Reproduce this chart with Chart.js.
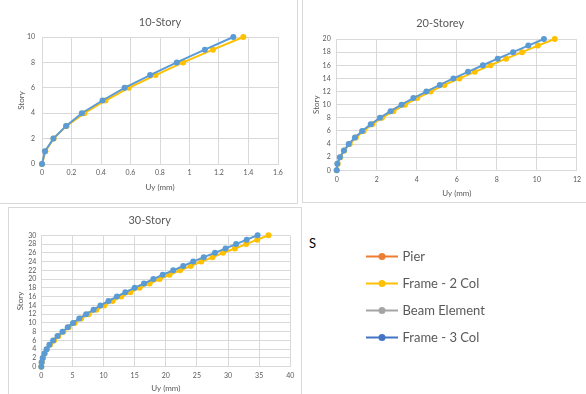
<!DOCTYPE html>
<html>
<head>
<meta charset="utf-8">
<script src="https://cdn.jsdelivr.net/npm/chart.js@4.4.0/dist/chart.umd.min.js"></script>
<style>
  body { margin: 0; background: #fff; width: 586px; height: 394px; overflow: hidden; position: relative; font-family: Lato, "Liberation Sans", sans-serif; }
  canvas, .box, .note { position: absolute; }
  .box { box-sizing: border-box; border: 1px solid #d9d9d9; }
  .note { left: 309px; top: 235px; font-size: 13px; color: #000; }
</style>
</head>
<body>
<div class="box" style="left:-1px;top:-1px;width:299px;height:205px"></div>
<div class="box" style="left:302px;top:-1px;width:300px;height:204px"></div>
<div class="box" style="left:8px;top:207px;width:294px;height:200px"></div>
<canvas id="story10" width="297" height="203" style="left:0;top:0"></canvas>
<canvas id="story20" width="283" height="202" style="left:303px;top:0"></canvas>
<canvas id="story30" width="292" height="186" style="left:9px;top:208px"></canvas>
<div class="note">S</div>
<canvas id="legendChart" width="232" height="150" style="left:354px;top:236px"></canvas>
<script>
// ---- data (Uy in mm per storey) ----
const stories10 = [0, 1, 2, 3, 4, 5, 6, 7, 8, 9, 10];
const frame2Col10 = [0, 0.023, 0.079, 0.167, 0.287, 0.43, 0.588, 0.77, 0.957, 1.159, 1.365];
const frame3Col10 = [0, 0.02, 0.077, 0.163, 0.27, 0.41, 0.56, 0.733, 0.914, 1.104, 1.297];

const stories20 = [0, 1, 2, 3, 4, 5, 6, 7, 8, 9, 10, 11, 12, 13, 14, 15, 16, 17, 18, 19, 20];
const frame2Col20 = [0, 0.05, 0.18, 0.38, 0.65, 0.96, 1.35, 1.78, 2.26, 2.83, 3.41, 4.02, 4.69, 5.38, 6.13, 6.9, 7.68, 8.46, 9.26, 10.05, 10.89];
const frame3Col20 = [0, 0.03, 0.16, 0.36, 0.6, 0.91, 1.27, 1.7, 2.16, 2.69, 3.24, 3.83, 4.48, 5.15, 5.83, 6.56, 7.3, 8.04, 8.81, 9.57, 10.35];

const stories30 = [0, 1, 2, 3, 4, 5, 6, 7, 8, 9, 10, 11, 12, 13, 14, 15, 16, 17, 18, 19, 20, 21, 22, 23, 24, 25, 26, 27, 28, 29, 30];
const frame2Col30 = [0, 0.07, 0.27, 0.55, 0.9, 1.4, 2.05, 2.75, 3.55, 4.4, 5.35, 6.4, 7.6, 8.85, 10.1, 11.45, 12.85, 14.3, 15.8, 17.4, 19.0, 20.6, 22.3, 24.0, 25.7, 27.5, 29.2, 31.1, 32.9, 34.7, 36.5];
const frame3Col30 = [0, 0.06, 0.22, 0.5, 0.85, 1.3, 1.9, 2.6, 3.4, 4.25, 5.1, 6.1, 7.2, 8.4, 9.5, 10.8, 12.15, 13.5, 15.0, 16.5, 18.0, 19.5, 21.2, 22.8, 24.4, 26.1, 27.9, 29.6, 31.3, 33.0, 34.75];

const seriesNames = ["Pier", "Frame - 2 Col", "Beam Element", "Frame - 3 Col"];
const legendColors = ["#ED7D31", "#FFC000", "#A5A5A5", "#4472C4"];

// axis limits [max, step]
const xAxis10 = [1.6, 0.2], yAxis10 = [10, 2];
const xAxis20 = [12, 2], yAxis20 = [20, 2];
const xAxis30 = [40, 5], yAxis30 = [30, 2];

const FONT = "Lato, 'Liberation Sans', sans-serif";
const TEXT = "#595959";
const GRID = "#d9d9d9";
const YELLOW = "#FFC000";
const BLUE = "#5B9BD5";

function series(label, stories, uy, color, order) {
    return {
        label: label,
        data: stories.map((s, i) => ({ x: uy[i], y: s })),
        borderColor: color,
        backgroundColor: color,
        borderWidth: 2,
        pointRadius: 3,
        pointBorderWidth: 0,
        order: order,
        clip: false
    };
}

function storyChart(id, cfg) {
    const canvas = document.getElementById(id);
    return new Chart(canvas.getContext("2d"), {
        type: "line",
        data: {
            datasets: [
                series(seriesNames[1], cfg.stories, cfg.frame2, YELLOW, 2),
                series(seriesNames[3], cfg.stories, cfg.frame3, BLUE, 1)
            ]
        },
        options: {
            responsive: false,
            animation: false,
            layout: { padding: { left: 0, top: 0, bottom: 0, right: cfg.padRight } },
            plugins: {
                legend: { display: false },
                tooltip: { enabled: false },
                title: {
                    display: true,
                    text: cfg.title,
                    color: TEXT,
                    fullSize: cfg.titleFull,
                    font: { family: FONT, size: 11, weight: "normal" },
                    padding: { top: cfg.titleTop, bottom: cfg.titleBottom }
                }
            },
            scales: {
                x: {
                    type: "linear",
                    min: 0,
                    max: cfg.xAxis[0],
                    ticks: {
                        stepSize: cfg.xAxis[1],
                        padding: cfg.xTickPad,
                        color: TEXT,
                        font: { family: FONT, size: 7 },
                        maxRotation: 0,
                        callback: v => String(Math.round(v * 10) / 10)
                    },
                    grid: { color: GRID, drawTicks: false },
                    border: { color: GRID },
                    title: {
                        display: true,
                        text: "Uy (mm)",
                        color: TEXT,
                        font: { family: FONT, size: 8 },
                        padding: { top: 0, bottom: cfg.xTitlePad }
                    },
                    afterFit: s => { s.height = cfg.xHeight; }
                },
                y: {
                    type: "linear",
                    min: 0,
                    max: cfg.yAxis[0],
                    ticks: {
                        stepSize: cfg.yAxis[1],
                        padding: cfg.yTickPad,
                        color: TEXT,
                        autoSkip: false,
                        font: { family: FONT, size: 7 }
                    },
                    grid: { color: GRID, drawTicks: false },
                    border: { color: GRID },
                    title: {
                        display: true,
                        text: "Story",
                        color: TEXT,
                        font: { family: FONT, size: 8 },
                        padding: { top: cfg.yTitlePad, bottom: 0 }
                    },
                    afterFit: s => { s.width = cfg.yWidth; }
                }
            }
        }
    });
}

storyChart("story10", {
    title: "10-Story", stories: stories10, frame2: frame2Col10, frame3: frame3Col10,
    xAxis: xAxis10, yAxis: yAxis10, titleFull: false,
    padRight: 19, titleTop: 15.4, titleBottom: 8.4,
    yWidth: 42, yTickPad: 7, yTitlePad: 17,
    xHeight: 39, xTickPad: 5, xTitlePad: 11
});

storyChart("story20", {
    title: "20-Storey", stories: stories20, frame2: frame2Col20, frame3: frame3Col20,
    xAxis: xAxis20, yAxis: yAxis20, titleFull: true,
    padRight: 8.7, titleTop: 16.4, titleBottom: 9.4,
    yWidth: 33.7, yTickPad: 6, yTitlePad: 9,
    xHeight: 31.7, xTickPad: 5, xTitlePad: 4
});

storyChart("story30", {
    title: "30-Story", stories: stories30, frame2: frame2Col30, frame3: frame3Col30,
    xAxis: xAxis30, yAxis: yAxis30, titleFull: true,
    padRight: 10.7, titleTop: 5.4, titleBottom: 8.7,
    yWidth: 32.3, yTickPad: 5, yTitlePad: 7,
    xHeight: 27.3, xTickPad: 5, xTitlePad: 1
});

// ------------------------
// shared legend (line + marker)
// ------------------------
function legendMarker(color) {
    const c = document.createElement("canvas");
    c.width = 32;
    c.height = 9;
    const g = c.getContext("2d");
    g.strokeStyle = color;
    g.lineWidth = 2;
    g.beginPath();
    g.moveTo(0, 4.5);
    g.lineTo(32, 4.5);
    g.stroke();
    g.fillStyle = color;
    g.beginPath();
    g.arc(16, 4.5, 3.5, 0, Math.PI * 2);
    g.fill();
    return c;
}

new Chart(document.getElementById("legendChart").getContext("2d"), {
    type: "line",
    data: {
        datasets: seriesNames.map((name, i) => ({
            label: name,
            data: [],
            borderColor: legendColors[i],
            backgroundColor: legendColors[i],
            pointStyle: legendMarker(legendColors[i])
        }))
    },
    options: {
        responsive: false,
        animation: false,
        layout: { padding: 0 },
        scales: { x: { display: false }, y: { display: false } },
        plugins: {
            tooltip: { enabled: false },
            legend: {
                position: "left",
                align: "start",
                maxWidth: 220,
                labels: {
                    usePointStyle: true,
                    pointStyleWidth: 28,
                    padding: 14,
                    color: TEXT,
                    font: { family: FONT, size: 13 }
                }
            }
        }
    }
});
</script>
</body>
</html>
